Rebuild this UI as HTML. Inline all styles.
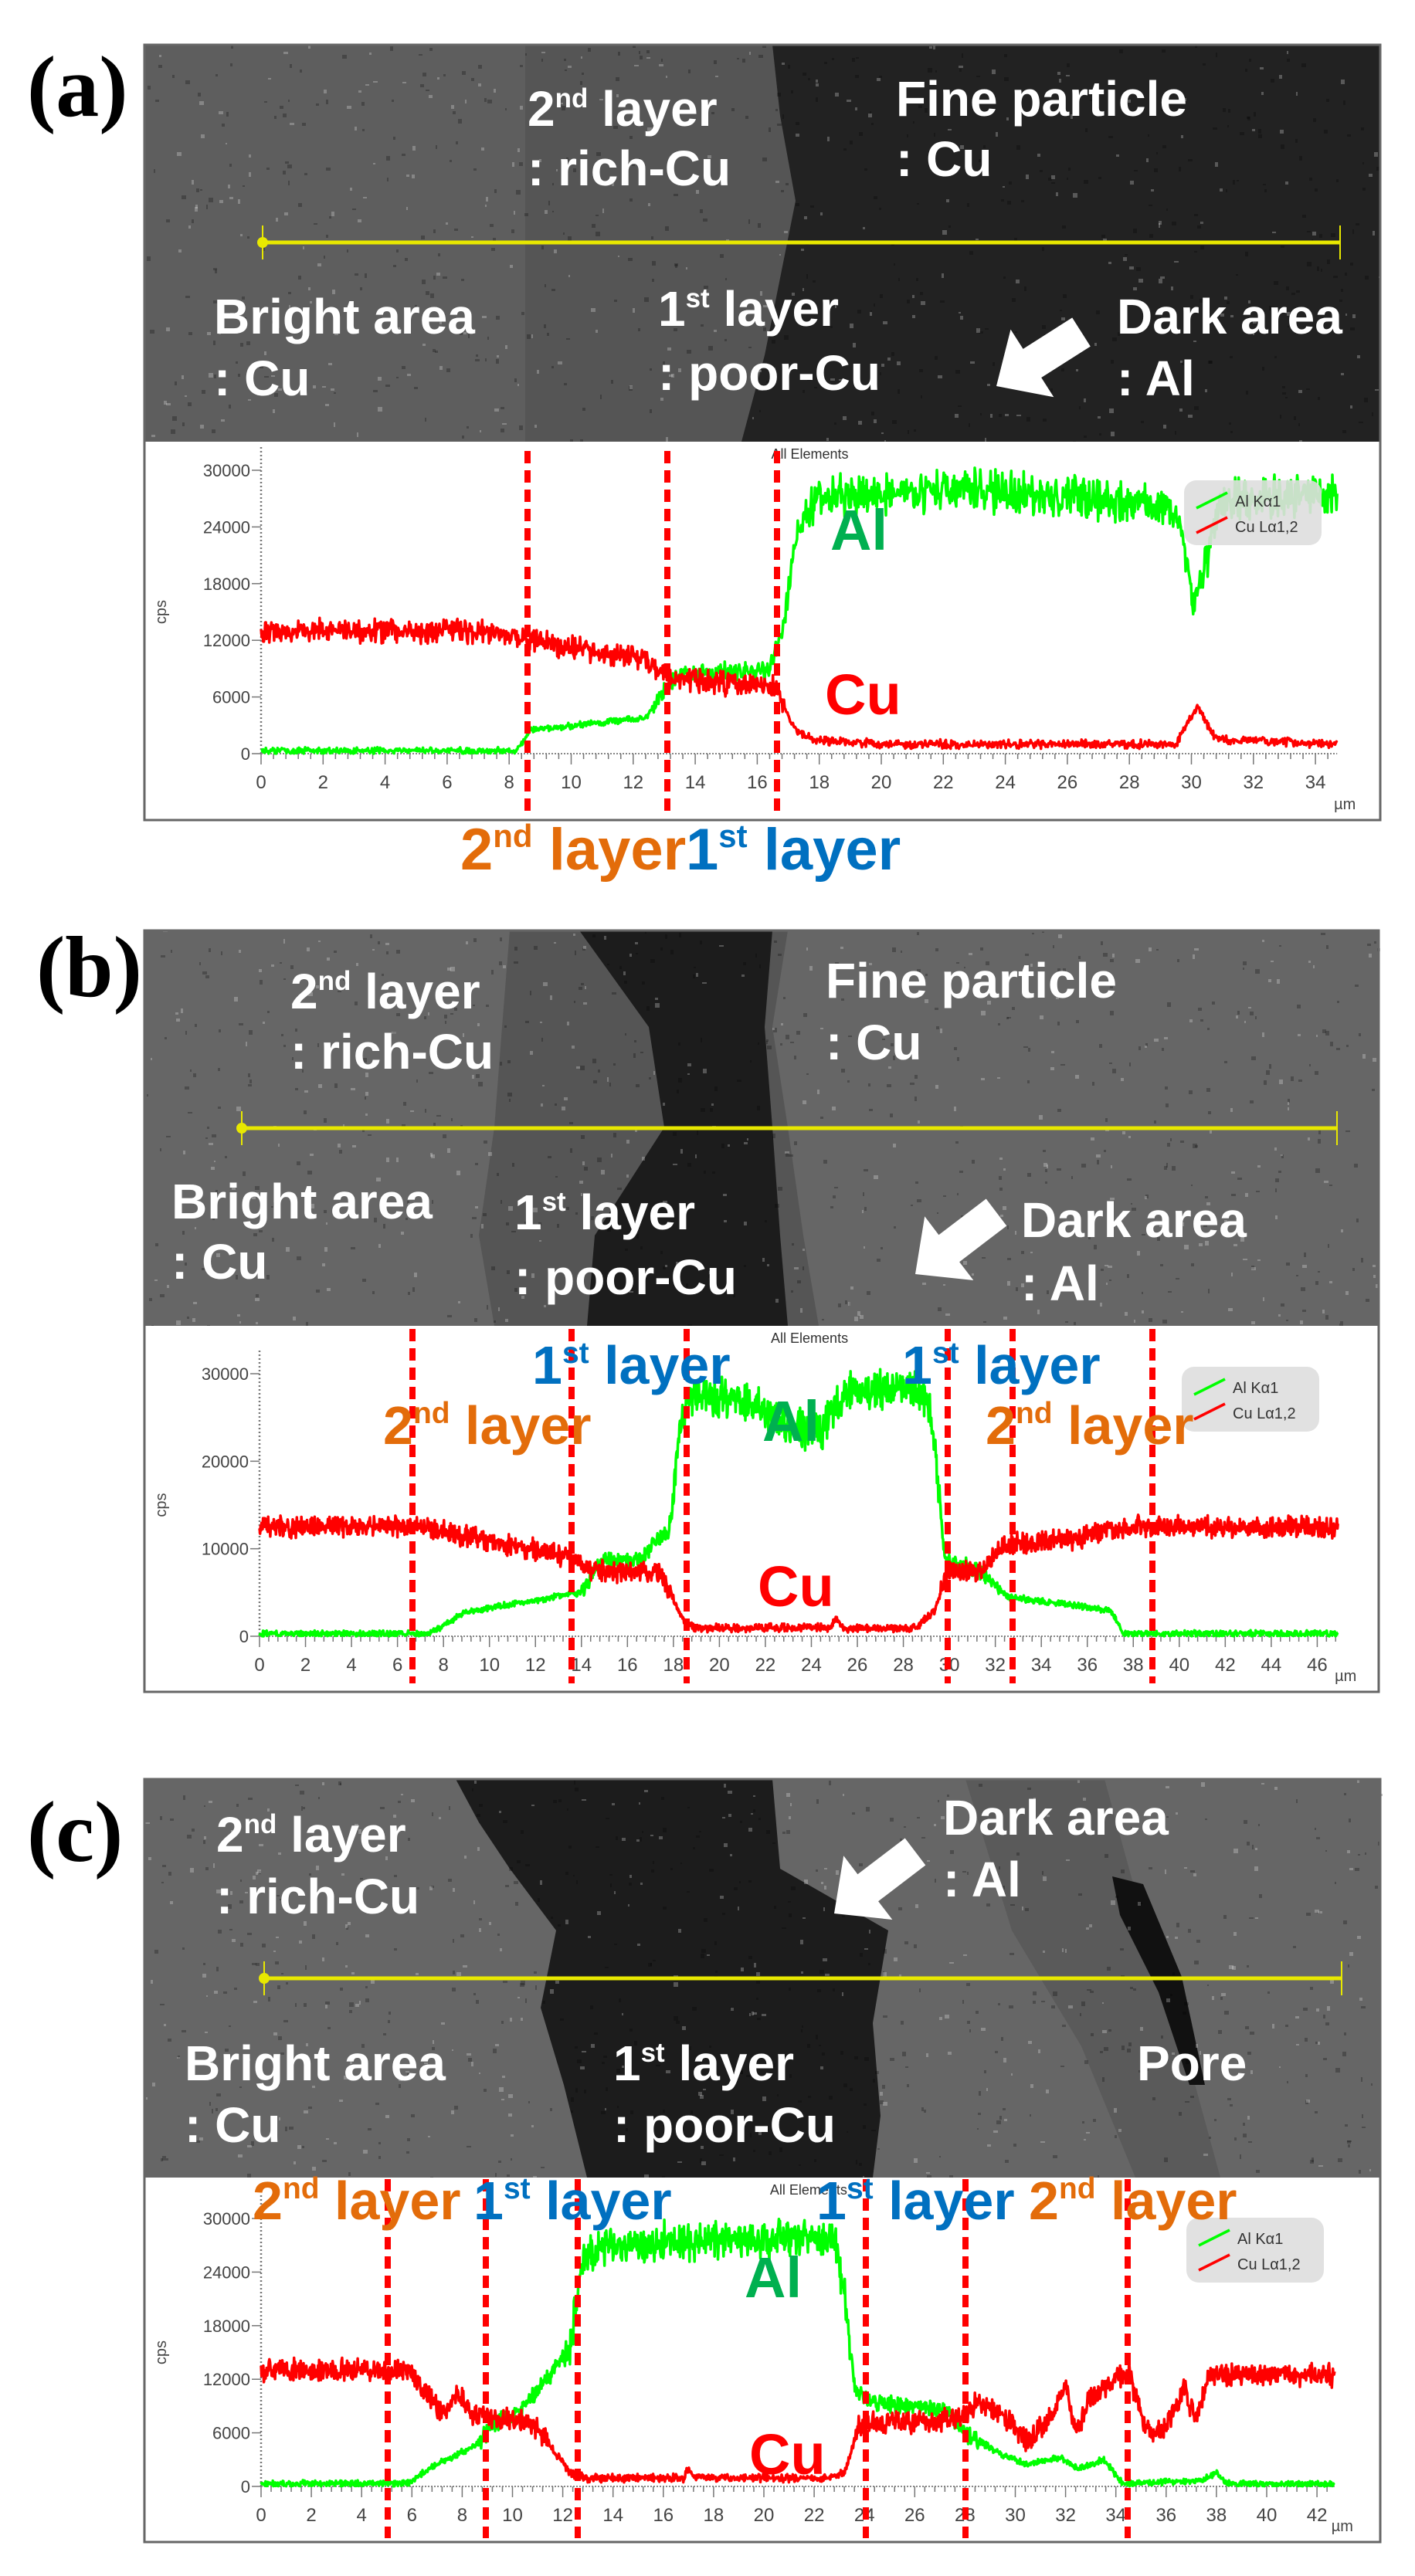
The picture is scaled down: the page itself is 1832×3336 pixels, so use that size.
<!DOCTYPE html>
<html><head><meta charset="utf-8">
<style>
html,body{margin:0;padding:0;background:#fff;}
svg{display:block;}
</style></head>
<body>
<svg id="s" xmlns="http://www.w3.org/2000/svg" width="1832" height="3336" viewBox="0 0 1832 3336" font-family="Liberation Sans, sans-serif">
<rect width="1832" height="3336" fill="#fff"/>
<g id="g"></g>
</svg>
<script>
var seed=12345;function rnd(){seed=(seed*16807)%2147483647;return seed/2147483647;}
function nz(){return (rnd()+rnd()-1);}
function interp(k,x){for(var i=0;i<k.length-1;i++){if(x>=k[i][0]&&x<=k[i+1][0]){var t=(x-k[i][0])/(k[i+1][0]-k[i][0]||1);return k[i][1]+t*(k[i+1][1]-k[i][1]);}}return k[k.length-1][1];}
var out=[];
function E(s){out.push(s);}
function txt(x,y,s,size,fill,extra){E('<text x="'+x+'" y="'+y+'" font-size="'+size+'" font-weight="bold" fill="'+fill+'" '+(extra||'')+'>'+s+'</text>');}
function sup(x,y,a,b,rest,size,fill){E('<text x="'+x+'" y="'+y+'" font-size="'+size+'" font-weight="bold" fill="'+fill+'">'+a+'<tspan font-size="'+Math.round(size*0.55)+'" dy="'+(-Math.round(size*0.38))+'">'+b+'</tspan><tspan dy="'+Math.round(size*0.38)+'">'+rest+'</tspan></text>');}
function arrow(x1,y1,x2,y2){
 var dx=x2-x1,dy=y2-y1,L=Math.sqrt(dx*dx+dy*dy),ux=dx/L,uy=dy/L,px=-uy,py=ux;
 var hw=22,hh=52,hl=55;var bx=x2-ux*hl,by=y2-uy*hl;
 var p=[[x1+px*hw,y1+py*hw],[bx+px*hw,by+py*hw],[bx+px*hh,by+py*hh],[x2,y2],[bx-px*hh,by-py*hh],[bx-px*hw,by-py*hw],[x1-px*hw,y1-py*hw]];
 E('<polygon fill="#fff" points="'+p.map(function(q){return q[0].toFixed(1)+','+q[1].toFixed(1)}).join(' ')+'"/>');}
function speckle(x0,y0,w,h,n,col){for(var i=0;i<n;i++){E('<rect x="'+(x0+rnd()*w).toFixed(0)+'" y="'+(y0+rnd()*h).toFixed(0)+'" width="'+(2+rnd()*4).toFixed(0)+'" height="'+(2+rnd()*4).toFixed(0)+'" fill="'+col+'" opacity="0.25"/>');}}
function chart(P){
 E('<rect x="'+P.L+'" y="'+P.ct+'" width="'+(P.R-P.L)+'" height="'+(P.cb-P.ct)+'" fill="#fff"/>');
 var X=function(u){return P.x0+u*P.px;},Y=function(v){return P.y0-(v/30000)*(P.y0-P.y30);};
 E('<line x1="'+P.x0+'" y1="'+(P.y30-30)+'" x2="'+P.x0+'" y2="'+P.y0+'" stroke="#777" stroke-width="2.5" stroke-dasharray="2 3"/>');
 E('<line x1="'+P.x0+'" y1="'+P.y0+'" x2="'+X(P.xmax)+'" y2="'+P.y0+'" stroke="#888" stroke-width="2" stroke-dasharray="2 2"/>');
 for(var u=0;u<=P.xmax+0.001;u+=0.4){var maj=Math.abs(u/2-Math.round(u/2))<0.01;E('<line x1="'+X(u)+'" y1="'+P.y0+'" x2="'+X(u)+'" y2="'+(P.y0+(maj?14:7))+'" stroke="#777" stroke-width="1.5"/>');}
 for(var u=0;u<=P.xmax;u+=2){E('<text x="'+X(u)+'" y="'+(P.y0+45)+'" font-size="24" fill="#444" text-anchor="middle">'+u+'</text>');}
 E('<text x="'+(X(P.xmax)+10)+'" y="'+(P.cb-14)+'" font-size="20" fill="#444" text-anchor="middle">µm</text>');
 P.yt.forEach(function(v){E('<line x1="'+(P.x0-12)+'" y1="'+Y(v)+'" x2="'+P.x0+'" y2="'+Y(v)+'" stroke="#777" stroke-width="1.5"/>');E('<text x="'+(P.x0-14)+'" y="'+(Y(v)+8)+'" font-size="22" fill="#444" text-anchor="end">'+v+'</text>');});
 E('<text x="0" y="0" font-size="20" fill="#444" transform="translate('+(P.L+28)+','+((P.y0+P.y30)/2)+') rotate(-90)" text-anchor="middle">cps</text>');
 E('<text x="'+(P.x0+(X(P.xmax)-P.x0)*0.51)+'" y="'+(P.ct+22)+'" font-size="18" fill="#333" text-anchor="middle">All Elements</text>');
 function series(k,nl,nh,col){var pts=[];var n=Math.round(P.xmax*45);for(var i=0;i<=n;i++){var u=i*P.xmax/n;var v=interp(k,u);var a=v>15000?nh:(v>5000?nl*1.6:nl*0.6);v+=nz()*a;if(v<0)v=50;pts.push(X(u).toFixed(1)+','+Y(v).toFixed(1));}
  E('<polyline fill="none" stroke="'+col+'" stroke-width="3.5" stroke-linejoin="round" points="'+pts.join(' ')+'"/>');}
 series(P.al,700,2600,'#00ff00');
 series(P.cu,900,900,'#ff0000');
 E('<rect x="'+P.lg[0]+'" y="'+P.lg[1]+'" width="178" height="84" rx="16" fill="#dedede" opacity="0.9"/>');
 E('<line x1="'+(P.lg[0]+16)+'" y1="'+(P.lg[1]+36)+'" x2="'+(P.lg[0]+56)+'" y2="'+(P.lg[1]+16)+'" stroke="#00ff00" stroke-width="3.5"/>');
 E('<line x1="'+(P.lg[0]+16)+'" y1="'+(P.lg[1]+68)+'" x2="'+(P.lg[0]+56)+'" y2="'+(P.lg[1]+48)+'" stroke="#ff0000" stroke-width="3.5"/>');
 E('<text x="'+(P.lg[0]+66)+'" y="'+(P.lg[1]+34)+'" font-size="20" fill="#333">Al Kα1</text>');
 E('<text x="'+(P.lg[0]+66)+'" y="'+(P.lg[1]+67)+'" font-size="20" fill="#333">Cu Lα1,2</text>');
 P.dl.forEach(function(x){E('<line x1="'+x+'" y1="'+P.dt+'" x2="'+x+'" y2="'+P.db+'" stroke="#ff0000" stroke-width="8" stroke-dasharray="16 9"/>');});
 E('<rect x="'+P.L+'" y="'+P.st+'" width="'+(P.R-P.L)+'" height="'+(P.cb-P.st)+'" fill="none" stroke="#666" stroke-width="3"/>');
}
function sem(P,regions){
 E('<rect x="'+P.L+'" y="'+P.st+'" width="'+(P.R-P.L)+'" height="'+(P.ct-P.st)+'" fill="'+regions.base+'"/>');
 regions.polys.forEach(function(r){E('<polygon fill="'+r[0]+'" points="'+r[1]+'"/>');});
 speckle(P.L,P.st,P.R-P.L,P.ct-P.st,500,'#000');
 speckle(P.L,P.st,P.R-P.L,P.ct-P.st,300,'#fff');
 E('<line x1="'+P.yl[0]+'" y1="'+P.yl[2]+'" x2="'+P.yl[1]+'" y2="'+P.yl[2]+'" stroke="#e8e800" stroke-width="5"/>');
 E('<line x1="'+P.yl[0]+'" y1="'+(P.yl[2]-22)+'" x2="'+P.yl[0]+'" y2="'+(P.yl[2]+22)+'" stroke="#e8e800" stroke-width="2"/>');
 E('<line x1="'+P.yl[1]+'" y1="'+(P.yl[2]-22)+'" x2="'+P.yl[1]+'" y2="'+(P.yl[2]+22)+'" stroke="#e8e800" stroke-width="2"/>');
 E('<circle cx="'+P.yl[0]+'" cy="'+P.yl[2]+'" r="7" fill="#e8e800"/>');
}
var W='#fff',SZ=64,OR='#e36c0a',BL='#0070c0';
/* ---------- (a) ---------- */
var A={L:187,R:1787,st:58,ct:572,cb:1062,x0:338,px:40.15,xmax:34.7,y0:976,y30:609,yt:[0,6000,12000,18000,24000,30000],
 lg:[1533,622],dl:[683,864,1006],dt:584,db:1058,yl:[340,1735,314],
 al:[[0,300],[8.2,300],[8.7,2500],[12.4,3800],[13.2,7500],[13.6,8500],[16.4,8800],[16.8,13000],[17.3,24000],[18,27000],[22,28000],[28.8,26500],[29.6,25000],[30.1,16000],[30.6,22000],[31,27000],[34.7,27500]],
 cu:[[0,13000],[7.8,13000],[8.6,12000],[12.4,10000],[13.1,8000],[16.6,7000],[17.2,2500],[17.8,1500],[20,1000],[29.5,1000],[30.2,5000],[30.8,1500],[34.7,1000]]};
sem(A,{base:'#5e5e5e',polys:[['#555','680,58 1000,58 1010,150 1030,260 1010,360 990,460 960,572 680,572'],['#222','1000,58 1787,58 1787,572 960,572 990,460 1010,360 1030,260 1010,150']]});
chart(A);
E('<text x="35" y="150" font-size="112" font-weight="bold" font-family="Liberation Serif, serif" fill="#000">(a)</text>');
sup(683,163,'2','nd',' layer',SZ,W);txt(683,240,': rich-Cu',SZ,W);
txt(1160,150,'Fine particle',SZ,W);txt(1160,228,': Cu',SZ,W);
txt(277,432,'Bright area',SZ,W);txt(277,512,': Cu',SZ,W);
sup(852,422,'1','st',' layer',SZ,W);txt(852,505,': poor-Cu',SZ,W);
txt(1446,432,'Dark area',SZ,W);txt(1446,512,': Al',SZ,W);
arrow(1400,430,1290,500);
txt(1075,712,'Al',74,'#00b050');txt(1068,925,'Cu',74,'#ff0000');
sup(596,1126,'2','nd',' layer',76,OR);sup(888,1126,'1','st',' layer',76,BL);
/* ---------- (b) ---------- */
var B={L:187,R:1785,st:1205,ct:1717,cb:2191,x0:336,px:29.77,xmax:46.9,y0:2119,y30:1779,yt:[0,10000,20000,30000],
 lg:[1530,1770],dl:[534,740,889,1227,1311,1492],dt:1721,db:2180,yl:[313,1731,1461],
 al:[[0,300],[7.4,300],[9,2800],[14,5000],[14.8,8500],[16.5,8800],[17.8,12000],[18.3,24000],[18.8,27500],[21,27000],[23,24000],[24.5,23500],[25.5,28000],[28.5,28500],[29.2,26000],[29.8,9000],[31.5,7000],[32.5,4500],[37,3000],[37.6,300],[47,300]],
 cu:[[0,12500],[7,12500],[9,11500],[13.5,9000],[14.5,7500],[17.5,7200],[18.4,2000],[19,900],[24.8,1000],[25.1,2000],[25.4,900],[28.5,900],[29.4,3000],[29.9,7500],[31.5,7500],[32.4,10500],[35,11000],[38,12500],[47,12500]]};
sem(B,{base:'#666',polys:[['#555','660,1205 1020,1205 1000,1330 1020,1460 1040,1600 1060,1717 640,1717 620,1600 640,1460 650,1330'],['#1c1c1c','750,1205 1000,1205 990,1330 1000,1460 1010,1600 1020,1717 760,1717 770,1600 860,1460 840,1330']]});
chart(B);
E('<text x="47" y="1290" font-size="112" font-weight="bold" font-family="Liberation Serif, serif" fill="#000">(b)</text>');
sup(376,1306,'2','nd',' layer',SZ,W);txt(376,1384,': rich-Cu',SZ,W);
txt(1069,1292,'Fine particle',SZ,W);txt(1069,1372,': Cu',SZ,W);
txt(222,1578,'Bright area',SZ,W);txt(222,1656,': Cu',SZ,W);
sup(666,1592,'1','st',' layer',SZ,W);txt(666,1676,': poor-Cu',SZ,W);
txt(1322,1602,'Dark area',SZ,W);txt(1322,1684,': Al',SZ,W);
arrow(1290,1570,1185,1650);
sup(689,1792,'1','st',' layer',70,BL);sup(1168,1792,'1','st',' layer',70,BL);
sup(496,1870,'2','nd',' layer',70,OR);sup(1276,1870,'2','nd',' layer',70,OR);
txt(987,1866,'Al',74,'#00b050');txt(981,2080,'Cu',74,'#ff0000');
/* ---------- (c) ---------- */
var C={L:187,R:1787,st:2304,ct:2820,cb:3292,x0:338,px:32.55,xmax:42.7,y0:3220,y30:2873,yt:[0,6000,12000,18000,24000,30000],
 lg:[1536,2872],dl:[502,629,748,1121,1250,1460],dt:2822,db:3287,yl:[342,1737,2562],
 al:[[0,300],[5.8,300],[7,2500],[8.5,4500],[9.3,7000],[10.5,9000],[11.5,12500],[12.3,16000],[12.8,25000],[13.5,27000],[22.8,28000],[23.2,22000],[23.6,11000],[24.2,9500],[27.3,8500],[28,6000],[29.5,3500],[30.5,2500],[31.8,3200],[32.5,2000],[33.5,3000],[34.3,300],[37.5,700],[38,1600],[38.4,300],[42.7,300]],
 cu:[[0,13000],[5.9,13000],[6.5,10500],[7.3,8000],[7.8,10500],[8.5,8000],[10.2,7500],[11,6500],[12.3,1500],[13,900],[16.8,1000],[17,2000],[17.2,1000],[22.5,900],[23.2,1500],[23.8,7000],[27.8,7500],[28.5,9500],[29.5,8000],[30.5,5000],[31.5,8000],[32,11500],[32.4,6000],[33,10000],[34.5,13000],[35.2,6000],[36,6500],[36.7,11000],[37.2,7500],[37.7,12500],[42.7,12500]]};
sem(C,{base:'#666',polys:[['#1c1c1c','590,2304 1000,2304 1010,2420 1150,2500 1130,2620 1140,2740 1130,2820 760,2820 730,2700 700,2600 720,2500 660,2420 620,2360'],['#5a5a5a','1250,2304 1430,2304 1470,2450 1520,2600 1580,2820 1470,2820 1400,2650 1310,2500'],['#111','1440,2430 1480,2440 1530,2560 1560,2700 1540,2700 1500,2580 1450,2480']]});
chart(C);
E('<text x="35" y="2410" font-size="112" font-weight="bold" font-family="Liberation Serif, serif" fill="#000">(c)</text>');
sup(280,2398,'2','nd',' layer',SZ,W);txt(280,2478,': rich-Cu',SZ,W);
txt(1221,2376,'Dark area',SZ,W);txt(1221,2456,': Al',SZ,W);
txt(239,2694,'Bright area',SZ,W);txt(239,2774,': Cu',SZ,W);
sup(794,2694,'1','st',' layer',SZ,W);txt(794,2774,': poor-Cu',SZ,W);
txt(1472,2694,'Pore',SZ,W);
arrow(1185,2398,1080,2478);
sup(327,2874,'2','nd',' layer',70,OR);sup(613,2874,'1','st',' layer',70,BL);
sup(1057,2874,'1','st',' layer',70,BL);sup(1332,2874,'2','nd',' layer',70,OR);
txt(964,2975,'Al',74,'#00b050');txt(970,3204,'Cu',74,'#ff0000');
document.getElementById('g').innerHTML=out.join('');
</script>
</body></html>
